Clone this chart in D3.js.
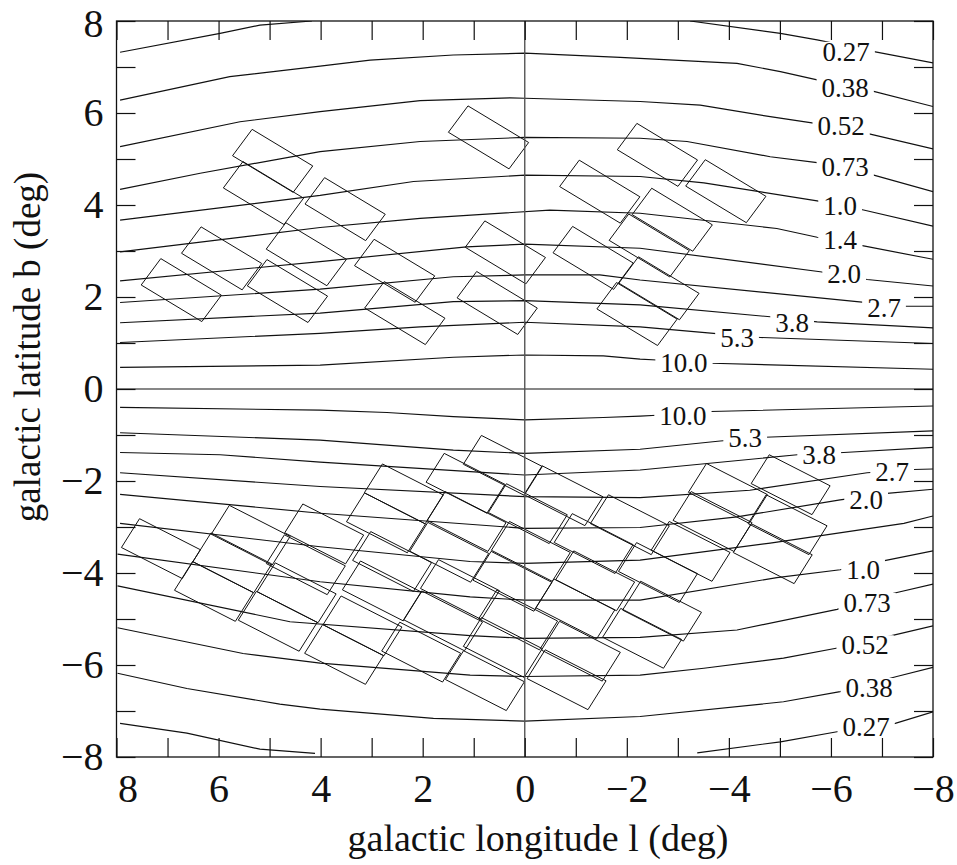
<!DOCTYPE html>
<html>
<head>
<meta charset="utf-8">
<script src="https://cdn.jsdelivr.net/npm/d3@7"></script>
<style>
  html, body { margin: 0; padding: 0; background: #fff; }
  svg { display: block; }
  text { font-family: "Liberation Serif", "Times New Roman", serif; fill: #111; }
</style>
</head>
<body>
<svg id="chart" width="957" height="865"></svg>
<script>
// ---------------- DATA (galactic l, b in degrees) ----------------
const xTicks = d3.range(-8, 9, 1);
const yTicks = d3.range(-8, 9, 1);
const xLabel = "galactic longitude l (deg)";
const yLabel = "galactic latitude b (deg)";

// contour lines (null = break)
const cN027 = [[7.93,7.32],[5.97,7.73],[5.19,7.91],[4.17,8.0],null,[-3.24,8.0],[-5.01,7.73],[-5.73,7.59],[-6.87,7.33],[-8,7.09]];
const cN038 = [[7.93,6.28],[5.78,6.79],[4.01,7.02],[3.03,7.15],[1.40,7.26],[0,7.30],[-1.87,7.21],[-4.16,7.08],[-5.01,6.90],[-5.73,6.72],[-6.80,6.48],[-8,6.14]];
const cN052 = [[7.93,5.27],[5.58,5.81],[4.01,6.03],[2.05,6.27],[0.29,6.33],[0,6.32],[-2.26,6.25],[-3.44,6.17],[-4.81,5.92],[-5.66,5.78],[-6.77,5.54],[-8,5.22]];
const cN073 = [[7.93,4.34],[6.36,4.69],[4.01,5.16],[2.05,5.38],[0,5.47],[-2.26,5.45],[-3.18,5.38],[-4.81,5.05],[-5.73,4.92],[-6.84,4.65],[-8,4.29]];
const cN100 = [[7.93,3.67],[4.01,4.21],[2.18,4.51],[0,4.65],[-2.26,4.62],[-3.51,4.48],[-5.73,4.09],[-6.64,3.89],[-8,3.54]];
const cN140 = [[7.93,2.98],[4.01,3.51],[2.05,3.71],[-0.49,3.89],[-2.26,3.82],[-4.94,3.49],[-5.73,3.30],[-6.64,3.11],[-8,2.82]];
const cN200 = [[7.93,2.35],[4.01,2.77],[1.14,3.09],[0,3.15],[-2.26,3.06],[-5.79,2.55],[-6.71,2.38],[-8,2.24]];
const cN270 = [[7.93,1.88],[4.01,2.17],[1.40,2.44],[0,2.48],[-1.47,2.48],[-2.26,2.37],[-6.51,1.90],[-7.43,1.80],[-8,1.80]];
const cN380 = [[7.93,1.44],[4.01,1.65],[1.40,1.90],[0,1.92],[-2.26,1.83],[-4.81,1.57],[-5.73,1.46],[-8,1.33]];
const cN530 = [[7.93,1.01],[4.01,1.21],[2.05,1.35],[0,1.45],[-2.26,1.35],[-3.70,1.21],[-4.62,1.12],[-8,0.99]];
const cN1000 = [[7.93,0.47],[4.01,0.52],[1.40,0.69],[0,0.74],[-1.54,0.72],[-2.26,0.65],[-2.59,0.63],[-3.67,0.56],[-8,0.43]];
const cMid = [[8,0],[-8,0]];
const cS1000 = [[7.93,-0.40],[4.01,-0.46],[2.70,-0.51],[1.40,-0.60],[0,-0.67],[-1.54,-0.62],[-2.26,-0.59],[-2.59,-0.57],[-3.64,-0.49],[-8,-0.37]];
const cS530 = [[7.93,-0.95],[4.01,-1.11],[1.40,-1.33],[0,-1.40],[-2.26,-1.31],[-3.83,-1.13],[-4.71,-1.05],[-8,-0.91]];
const cS380 = [[7.93,-1.38],[5.97,-1.43],[4.01,-1.59],[0,-1.87],[-2.26,-1.76],[-5.34,-1.43],[-6.25,-1.38],[-8,-1.27]];
const cS270 = [[7.93,-1.82],[4.01,-2.12],[0,-2.34],[-2.26,-2.36],[-4.41,-2.20],[-6.71,-1.82],[-7.62,-1.75],[-8,-1.74]];
const cS200 = [[7.93,-2.29],[4.01,-2.70],[0,-3.03],[-2.26,-3.01],[-4.16,-2.78],[-6.18,-2.41],[-7.10,-2.27],[-8,-2.18]];
const cS140 = [[7.93,-2.92],[4.01,-3.43],[1.07,-3.75],[0,-3.79],[-2.26,-3.72],[-4.81,-3.35],[-7.43,-2.92],[-8,-2.76]];
const cS100 = [[7.98,-3.59],[4.01,-4.19],[1.07,-4.52],[0,-4.59],[-2.26,-4.59],[-4.94,-4.10],[-6.18,-3.93],[-7.10,-3.72],[-8,-3.52]];
const cS073 = [[7.98,-4.28],[4.60,-5.06],[1.07,-5.36],[0,-5.42],[-2.26,-5.40],[-4.16,-5.24],[-6.12,-4.79],[-7.23,-4.44],[-8,-4.24]];
const cS052 = [[7.98,-5.19],[5.52,-5.75],[4.01,-5.96],[1.07,-6.22],[0,-6.25],[-2.26,-6.22],[-3.51,-6.07],[-5.07,-5.85],[-6.18,-5.62],[-7.23,-5.35],[-8,-5.15]];
const cS038 = [[7.98,-6.18],[6.62,-6.51],[4.80,-6.85],[4.01,-6.96],[1.79,-7.16],[0,-7.22],[-2.26,-7.12],[-5.07,-6.80],[-6.18,-6.58],[-7.29,-6.25],[-8,-6.05]];
const cS027 = [[7.93,-7.27],[6.62,-7.48],[5.19,-7.83],[4.11,-7.92],null,[-3.38,-7.91],[-5.01,-7.67],[-6.12,-7.45],[-7.26,-7.27],[-8,-7.02]];

// contour labels
const labelText = ["0.27","0.38","0.52","0.73","1.0","1.4","2.0","2.7","3.8","5.3","10.0",
                   "10.0","5.3","3.8","2.7","2.0","1.0","0.73","0.52","0.38","0.27"];
const labelL = [-6.30,-6.28,-6.20,-6.28,-6.18,-6.18,-6.26,-7.04,-5.24,-4.16,-3.12,
                -3.10,-4.32,-5.77,-7.20,-6.69,-6.63,-6.71,-6.67,-6.75,-6.69];
const labelB = [7.33,6.54,5.72,4.83,3.98,3.24,2.50,1.76,1.43,1.11,0.57,
                -0.59,-1.07,-1.43,-1.80,-2.41,-3.93,-4.65,-5.57,-6.50,-7.35];

// survey field centres, northern group (b > 0)
const northL = [0.71,-2.60,-3.94,-1.47,-2.89,-2.44,-1.34,-2.63,-2.20,0.38,0.54,
                4.94,5.12,3.52,4.28,4.65,5.94,6.73,2.55,2.35];
const northB = [5.47,5.09,4.30,4.29,3.68,3.12,2.85,2.19,1.63,2.97,1.87,
                4.96,4.26,3.91,2.93,2.13,2.84,2.15,2.57,1.65];
// survey field centres, southern group (b < 0)
const southL = [-5.21,-3.98,-5.15,-3.68,-4.86,
                0.43,-0.76,-2.06,-3.25,
                1.16,-0.06,-1.35,-2.61,
                2.37,1.14,-0.12,-1.38,-2.69,
                2.72,1.48,0.24,-0.99,-2.30,
                3.93,2.60,1.27,0.13,-1.10,
                5.37,4.29,2.80,1.60,0.43,-0.82,
                5.73,4.47,3.18,2.03,0.78,
                6.09,4.84,3.54,
                7.13];
const southB = [-2.08,-2.27,-2.95,-2.88,-3.58,
                -1.66,-2.32,-2.95,-3.53,
                -2.05,-2.71,-3.36,-3.99,
                -2.28,-2.88,-3.53,-4.17,-4.83,
                -2.91,-3.55,-4.18,-4.78,-5.42,
                -3.15,-3.75,-4.36,-5.02,-5.70,
                -3.18,-3.82,-4.39,-5.04,-5.62,-6.32,
                -3.78,-4.43,-5.15,-5.72,-6.34,
                -4.40,-5.05,-5.77,
                -3.47];
// field shape (long side, short side in deg; position angle of long side)
const northShape = {long: 1.43, short: 0.69, angle: 33.8};
const southShape = {long: 1.37, short: 0.72, angle: 29.5};

// ---------------- DRAW ----------------
const svg = d3.select("#chart");
svg.append("rect").attr("width", 957).attr("height", 865).attr("fill", "#fff");

const x = d3.scaleLinear().domain([8, -8]).range([116.5, 933]);
const y = d3.scaleLinear().domain([-8, 8]).range([757, 21]);

svg.append("defs").append("clipPath").attr("id", "plotclip")
  .append("rect").attr("x", x(8)).attr("y", y(8))
  .attr("width", x(-8) - x(8)).attr("height", y(-8) - y(8));

const plot = svg.append("g").attr("clip-path", "url(#plotclip)");

const contours = [cN027,cN038,cN052,cN073,cN100,cN140,cN200,cN270,cN380,cN530,cN1000,cMid,
                  cS1000,cS530,cS380,cS270,cS200,cS140,cS100,cS073,cS052,cS038,cS027];
const line = d3.line().defined(d => d !== null).x(d => x(d[0])).y(d => y(d[1]));
plot.selectAll("path.contour").data(contours).join("path")
  .attr("class", "contour")
  .attr("d", line)
  .attr("fill", "none").attr("stroke", "#111").attr("stroke-width", 1.15);

// fields
function fieldCorners(l, b, s) {
  const a = s.angle * Math.PI / 180;
  const uL = [-Math.cos(a), -Math.sin(a)];
  const uS = [Math.sin(a), -Math.cos(a)];
  const hl = s.long / 2, hs = s.short / 2;
  return [[-1,-1],[1,-1],[1,1],[-1,1]].map(([p, q]) =>
    [l + p * hl * uL[0] + q * hs * uS[0], b + p * hl * uL[1] + q * hs * uS[1]]);
}
const fields = northL.map((l, i) => fieldCorners(l, northB[i], northShape))
  .concat(southL.map((l, i) => fieldCorners(l, southB[i], southShape)));
plot.selectAll("path.field").data(fields).join("path")
  .attr("class", "field")
  .attr("d", d => "M" + d.map(p => x(p[0]) + "," + y(p[1])).join("L") + "Z")
  .attr("fill", "none").attr("stroke", "#111").attr("stroke-width", 1.0);

// labels with white gaps
const lab = plot.selectAll("g.clab").data(labelText.map((t, i) => ({t, l: labelL[i], b: labelB[i]})))
  .join("g").attr("class", "clab")
  .attr("transform", d => `translate(${x(d.l)},${y(d.b)})`);
lab.append("rect").attr("fill", "#fff");
lab.append("text").attr("text-anchor", "middle").attr("dy", "0.34em")
  .style("font-size", "27px").text(d => d.t);
lab.each(function() {
  const g = d3.select(this);
  const bb = g.select("text").node().getBBox();
  g.select("rect").attr("x", bb.x - 5).attr("width", bb.width + 10)
    .attr("y", -10).attr("height", 20);
});

// l = 0 vertical line
svg.append("line").attr("x1", x(0)).attr("x2", x(0)).attr("y1", y(8)).attr("y2", y(-8))
  .attr("stroke", "#555").attr("stroke-width", 1.4);

// axes
const fmt = d3.format("");
function styleAxis(g) {
  g.select(".domain").remove();
  g.selectAll(".tick line").attr("stroke", "#111").attr("stroke-width", 1.2);
  g.selectAll(".tick text").style("font-size", "40px").attr("fill", "#111");
}
const gb = svg.append("g").attr("transform", `translate(0,${y(-8)})`)
  .call(d3.axisBottom(x).tickValues(xTicks).tickSize(-19).tickPadding(17)
        .tickFormat(d => d % 2 === 0 ? fmt(d) : ""))
  .call(styleAxis);
gb.selectAll(".tick text").filter(d => d === 8).attr("dx", 11);
svg.append("g").attr("transform", `translate(0,${y(8)})`)
  .call(d3.axisTop(x).tickValues(xTicks).tickSize(-19).tickFormat(""))
  .call(styleAxis);
const gl = svg.append("g").attr("transform", `translate(${x(8)},0)`)
  .call(d3.axisLeft(y).tickValues(yTicks).tickSize(-19).tickPadding(13)
        .tickFormat(d => d % 2 === 0 ? fmt(d) : ""))
  .call(styleAxis);
gl.selectAll(".tick text").filter(d => d === 8).attr("y", 2.5);
svg.append("g").attr("transform", `translate(${x(-8)},0)`)
  .call(d3.axisRight(y).tickValues(yTicks).tickSize(-19).tickFormat(""))
  .call(styleAxis);

// frame
svg.append("rect").attr("x", x(8)).attr("y", y(8))
  .attr("width", x(-8) - x(8)).attr("height", y(-8) - y(8))
  .attr("fill", "none").attr("stroke", "#111").attr("stroke-width", 1.3);

// axis titles
svg.append("text").attr("x", 538).attr("y", 851).attr("text-anchor", "middle")
  .style("font-size", "38px").text(xLabel);
svg.append("text").attr("transform", "translate(40,347) rotate(-90)")
  .attr("text-anchor", "middle").style("font-size", "37px").text(yLabel);
</script>
</body>
</html>
